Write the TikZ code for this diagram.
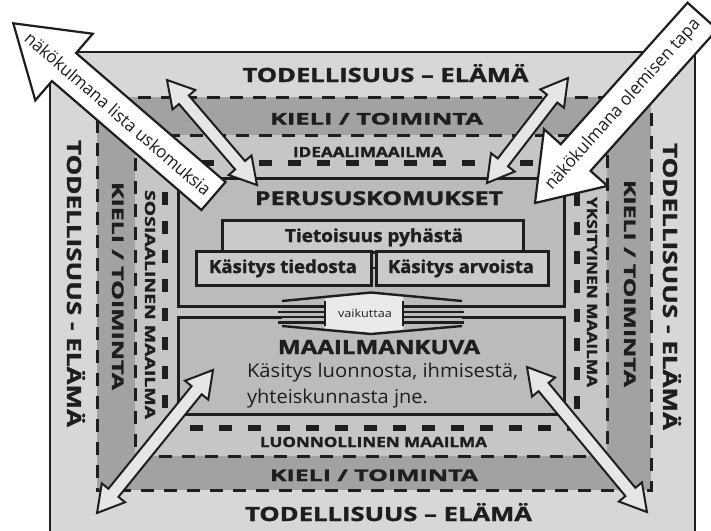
\documentclass[tikz,border=0pt]{standalone}
\usepackage{fontspec}
\setmainfont{Open Sans}
\newfontfamily\hvy[FakeBold=1.4]{Open Sans}
\usepackage{graphicx}
\definecolor{ink}{HTML}{1E1E1E}
\definecolor{outerg}{HTML}{D7D7D7}
\definecolor{darkg}{HTML}{A2A2A2}
\definecolor{lightg}{HTML}{C6C6C6}
\definecolor{boxg}{HTML}{BBBBBB}
\definecolor{subg}{HTML}{CACACA}
\definecolor{arrg}{HTML}{E6E6E6}
\definecolor{centerg}{HTML}{EAEAEA}
\newcommand\fitw[2]{\resizebox{#1pt}{\height}{#2}}
\newcommand\dblarr[4]{%
  \begin{scope}[shift={(#1,#2)}, rotate=#3]
    \draw[smallarr] (0,0) -- (26,15) -- (26,6.5) -- ({#4-26},6.5) -- ({#4-26},15) -- (#4,0)
      -- ({#4-26},-15) -- ({#4-26},-6.5) -- (26,-6.5) -- (26,-15) -- cycle;
  \end{scope}}
\tikzset{
  lbl/.style={inner sep=0pt, outer sep=0pt, text=ink, anchor=base},
  capXL/.style={font=\hvy\bfseries\fontsize{19.6}{22}\selectfont},
  capL/.style={font=\hvy\bfseries\fontsize{16}{18}\selectfont},
  capM/.style={font=\hvy\bfseries\fontsize{14}{16}\selectfont},
  boldtxt/.style={font=\hvy\bfseries\fontsize{18}{20}\selectfont},
  regtxt/.style={font=\fontsize{19}{21}\selectfont},
  arrtxt/.style={inner sep=0pt, text=ink, font=\fontsize{17.5}{19}\selectfont},
  thindash/.style={draw=ink, line width=3pt, dash pattern=on 13pt off 10pt},
  thickdash/.style={draw=ink, line width=6.5pt, dash pattern=on 13pt off 16pt},
  mainbox/.style={draw=ink, line width=3pt, fill=boxg, inner sep=0pt},
  subbox/.style={draw=ink, line width=3pt, fill=subg, inner sep=0pt},
  stripe/.style={draw=ink, line width=2.6pt},
  smallarr/.style={draw=ink, line width=2pt, fill=arrg, line join=miter},
  bigarr/.style={draw=ink, line width=2.2pt, fill=white, line join=miter},
}
\begin{document}
\begin{tikzpicture}[x=1pt,y=-1pt]
\useasboundingbox (0,0) rectangle (711,530);
\clip (0,0) rectangle (711,530);
\fill[white] (0,0) rectangle (711,530);
% bands
\draw[line width=2.5pt, draw=ink, fill=outerg] (50,52) rectangle (695,545);
\fill[darkg] (97,97) rectangle (651,490);
\draw[thindash] (97,97) rectangle (651,490);
\fill[lightg] (135,135) rectangle (607,456);
\draw[thindash] (135,135) rectangle (607,456);
\draw[thickdash] (165,163) rectangle (577,428);
% boxes
\node[mainbox, minimum width=386pt, minimum height=128.5pt] (perus) at (371,242.25) {};
\node[mainbox, minimum width=386pt, minimum height=97pt] (maailma) at (371,365.5) {};
\node[subbox, minimum width=301pt, minimum height=32pt] (pyha) at (372.5,236) {};
\node[subbox, minimum width=175pt, minimum height=34pt] (tieto) at (283.5,268) {};
\node[subbox, minimum width=172pt, minimum height=34pt] (arvo) at (462,268) {};
\draw[line width=2pt, draw=ink] (tieto.east) -- (arvo.west);
% vaikuttaa double arrow
\fill[boxg] (282,301) -- (371,292.5) -- (462,301) -- (462,326) -- (371,334) -- (282,326) -- cycle;
\fill[centerg] (325,296.9) -- (371,292.5) -- (403,295.5) -- (403,331.2) -- (371,334) -- (325,329.9) -- cycle;
\foreach \yy in {306.5,311.8,317,322.2} {
  \draw[stripe] (278,\yy) -- (325,\yy);
  \draw[stripe] (403,\yy) -- (464,\yy);
}
\draw[line width=2.4pt, draw=ink] (282,301) -- (371,292.5) -- (462,301);
\draw[line width=2.4pt, draw=ink] (282,326) -- (371,334) -- (462,326);
\draw[line width=2pt, draw=ink] (325,301) -- (325,326) (403,301) -- (403,326);
\node[lbl, font=\fontsize{11}{12}\selectfont] (vaik) at (365,317) {\fitw{54}{vaikuttaa}};
% texts in boxes
\node[lbl, font=\hvy\bfseries\fontsize{19}{21}\selectfont] (tperus) at (379,205) {\fitw{248}{PERUSUSKOMUKSET}};
\node[lbl, boldtxt] (tpyha) at (374,242) {\fitw{178}{Tietoisuus pyhästä}};
\node[lbl, boldtxt] (ttieto) at (283,273) {\fitw{148}{Käsitys tiedosta}};
\node[lbl, boldtxt] (tarvo) at (461,273) {\fitw{146}{Käsitys arvoista}};
\node[lbl, capXL] (tmaail) at (379,354) {\fitw{202}{MAAILMANKUVA}};
\node[lbl, regtxt, anchor=base west] (tluon) at (247,377) {\fitw{271}{Käsitys luonnosta, ihmisestä,}};
\node[lbl, regtxt, anchor=base west] (tyht) at (247,403) {\fitw{181}{yhteiskunnasta jne.}};
% band texts top / bottom
\node[lbl, capXL] (ttop) at (385.5,82) {\fitw{286}{TODELLISUUS – ELÄMÄ}};
\node[lbl, capL] (ktop) at (376.5,124.5) {\fitw{213}{KIELI / TOIMINTA}};
\node[lbl, capM] (itop) at (368,157) {\fitw{150}{IDEAALIMAAILMA}};
\node[lbl, capM] (lbot) at (373.5,447) {\fitw{227}{LUONNOLLINEN MAAILMA}};
\node[lbl, capL] (kbot) at (374,481) {\fitw{208}{KIELI / TOIMINTA}};
\node[lbl, capXL] (tbot) at (388.5,521) {\fitw{287}{TODELLISUUS – ELÄMÄ}};
% side texts
\node[lbl, capXL, rotate=-90] (tleft) at (67,283.5) {\fitw{287}{TODELLISUUS - ELÄMÄ}};
\node[lbl, capL, rotate=-90] (kleft) at (112,286) {\fitw{208}{KIELI / TOIMINTA}};
\node[lbl, capM, rotate=-90] (sleft) at (145,304.5) {\fitw{229}{SOSIAALINEN MAAILMA}};
\node[lbl, capM, rotate=-90] (yright) at (587,292) {\fitw{190}{YKSITYINEN MAAILMA}};
\node[lbl, capL, rotate=-90] (kright) at (624,283.5) {\fitw{207}{KIELI / TOIMINTA}};
\node[lbl, capXL, rotate=-90] (tright) at (663,286.5) {\fitw{287}{TODELLISUUS - ELÄMÄ}};
% small double arrows
\dblarr{167}{80}{-49.4}{138.3}
\dblarr{568}{78}{-127.65}{132.6}
\dblarr{213}{370}{-129.04}{184.1}
\dblarr{527}{367}{-50.4}{188.2}
% big arrows
\begin{scope}[shift={(13.3,23.3)}, rotate=-40.78, transform shape]
  \draw[bigarr] (0,0) -- (67,44) -- (67,18.5) -- (264.4,18.5) -- (264.4,-18.5) -- (67,-18.5) -- (67,-44) -- cycle;
  \node[arrtxt] (lista) at (138.5,0) {\fitw{239}{näkökulmana lista uskomuksia}};
\end{scope}
\begin{scope}[shift={(535,203)}, rotate=48.15, transform shape]
  \draw[bigarr] (0,0) -- (61,42.5) -- (61,20) -- (251,20) -- (251,-20) -- (61,-20) -- (61,-42.5) -- cycle;
  \node[arrtxt] (tapa) at (132,0) {\fitw{223}{näkökulmana olemisen tapa}};
\end{scope}
\end{tikzpicture}
\end{document}
